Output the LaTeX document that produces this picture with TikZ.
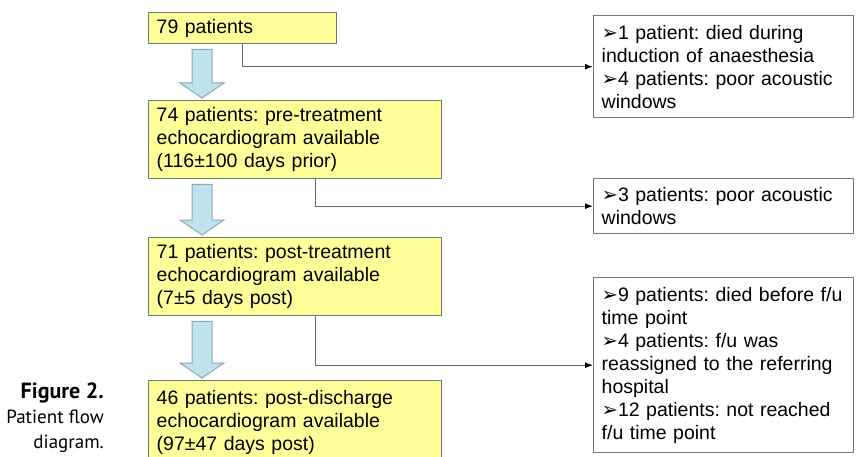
\documentclass[tikz,border=0pt]{standalone}
\usepackage{fontspec}
\setmainfont{Liberation Sans}
\newfontfamily\capfont{PT Sans}
\newfontfamily\symfont{DejaVu Sans}
\usetikzlibrary{calc,arrows.meta}
\definecolor{boxfill}{HTML}{FFFF99}
\definecolor{boxline}{HTML}{767676}
\definecolor{arrfill}{HTML}{BFE3EC}
\definecolor{arrline}{HTML}{8FA8B0}
\definecolor{flowline}{HTML}{6A6A6A}
\newcommand{\bul}{{\symfont\char"27A2}}
\frenchspacing

\begin{document}
\begin{tikzpicture}[x=1pt,y=-1pt,
  pbox/.style={draw=boxline,fill=boxfill,line width=1.4pt,anchor=north west,
    inner xsep=8pt,inner ysep=0pt,text width=#1,align=left,
    font=\fontsize{19.5}{23}\selectfont},
  xbox/.style={draw=boxline,fill=white,line width=1.4pt,anchor=north west,
    inner xsep=8pt,inner ysep=0pt,text width=244pt,align=left,
    font=\fontsize{19.5}{23}\selectfont},
  blk/.style={draw=arrline,fill=arrfill,line width=1pt,line join=miter},
  flow/.style={draw=flowline,line width=1.2pt,-{Latex[length=8pt,width=6pt,color=black]}}]
\clip (0,0) rectangle (856,457);
\fill[white] (0,0) rectangle (856,457);
% left column
\node[pbox=172pt,minimum height=31pt] (Pat79) at (148,12) {79 patients};
\node[pbox=277pt,minimum height=78pt] (Pat74) at (148,100)
  {74 patients: pre-treatment\\echocardiogram available\\(116±100 days prior)};
\node[pbox=277pt,minimum height=78pt] (Pat71) at (148,237)
  {71 patients: post-treatment\\echocardiogram available\\(7±5 days post)};
\node[pbox=277pt,minimum height=84pt] (Pat46) at (148,380)
  {46 patients: post-discharge\\echocardiogram available\\(97±47 days post)};
% right column
\node[xbox,minimum height=102pt] (Excl1) at (593,15)
  {\bul1 patient: died during\\induction of anaesthesia\\\bul4 patients: poor acoustic\\windows};
\node[xbox,minimum height=55pt] (Excl2) at (593,178)
  {\bul3 patients: poor acoustic\\windows};
\node[xbox,minimum height=175pt] (Excl3) at (593,277)
  {\bul9 patients: died before f/u\\time point\\\bul4 patients: f/u was\\reassigned to the referring\\hospital\\\bul12 patients: not reached\\f/u time point};
% caption
\node[anchor=north east,align=right,inner sep=0pt,
  font=\capfont\fontsize{19}{25}\selectfont] (Cap) at (104,383)
  {{\fontsize{22}{25}\selectfont\bfseries Figure 2.}\\Patient flow\\diagram.};
% block arrows
\foreach \a/\b in {Pat79/Pat74,Pat74/Pat71,Pat71/Pat46}
  \draw[blk] let \p1=(\a.south west), \p2=(\b.north west) in
    (\x1+44pt,\y1-5pt) -- (\x1+64pt,\y1-5pt) -- (\x1+64pt,\y2+17pt)
    -- (\x1+76pt,\y2+17pt) -- (\x1+54pt,\y2+2pt) -- (\x1+32pt,\y2+17pt)
    -- (\x1+44pt,\y2+17pt) -- cycle;
% exclusions
\draw[flow] (Pat79.south) |- (Excl1.west);
\draw[flow] ([xshift=20pt]Pat74.south) |- (Excl2.west);
\draw[flow] ([xshift=20pt]Pat71.south) |- (Excl3.west);
\end{tikzpicture}
\end{document}
